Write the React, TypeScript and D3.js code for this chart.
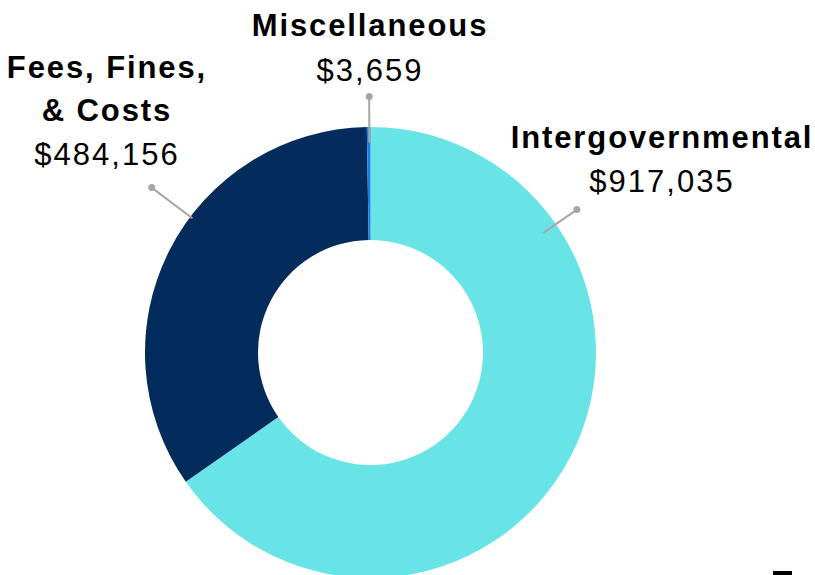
import * as d3 from "d3";

const categories = ["Intergovernmental", "Fees, Fines, & Costs", "Miscellaneous"];
const amounts = [917035, 484156, 3659];
const colors = ["#68E4E7", "#032B5B", "#1A7DE6"];

// label text lines (bold title lines) per category
const titleLines = [["Intergovernmental"], ["Fees, Fines,", "& Costs"], ["Miscellaneous"]];
// leader line angle (degrees, clockwise from 12 o'clock) and radii, per category
const leaderAngles = [55.3, 307, 359.7];
const leaderInner = [210, 223, 210];
const leaderOuter = [251, 274, 256];
const labelX = [662, 107, 370];
const labelTop = [148, 78, 36];

const width = 815;
const height = 575;
const cx = 370.5;
const cy = 352.5;
const outerR = 225.5;
const innerR = 112.5;
const lineGap = 43;

export default function App() {
  const pie = d3.pie<number>().sort(null).value((d) => d);
  const arcs = pie(amounts);
  const arc = d3.arc<d3.PieArcDatum<number>>().innerRadius(innerR).outerRadius(outerR);
  const fmt = d3.format("$,");

  return (
    <svg
      width={width}
      height={height}
      style={{ position: "absolute", left: 0, top: 0, fontFamily: "Liberation Sans, Arial, sans-serif" }}
    >
      <g transform={`translate(${cx},${cy})`}>
        {arcs.map((a, i) => (
          <path key={categories[i]} d={arc(a) || ""} fill={colors[i]} />
        ))}
        {leaderAngles.map((deg, i) => {
          const rad = (deg * Math.PI) / 180;
          const [x1, y1] = d3.pointRadial(rad, leaderInner[i]);
          const [x2, y2] = d3.pointRadial(rad, leaderOuter[i]);
          return (
            <g key={"l" + i}>
              <line x1={x1} y1={y1} x2={x2} y2={y2} stroke="#A6A6A6" strokeWidth={2} />
              <circle cx={x2} cy={y2} r={3.5} fill="#A6A6A6" />
            </g>
          );
        })}
      </g>
      {categories.map((c, i) => {
        const lines = titleLines[i];
        return (
          <g key={"t" + c}>
            {lines.map((ln, j) => (
              <text
                key={ln}
                x={labelX[i]}
                y={labelTop[i] + j * lineGap}
                textAnchor="middle"
                fontWeight="bold"
                fontSize={31}
                letterSpacing={1.9}
                fill="#000"
              >
                {ln}
              </text>
            ))}
            <text
              x={labelX[i]}
              y={labelTop[i] + lines.length * lineGap + (i === 2 ? 2 : 1)}
              textAnchor="middle"
              fontSize={31}
              letterSpacing={2}
              fill="#000"
            >
              {fmt(amounts[i])}
            </text>
          </g>
        );
      })}
      <rect x={773} y={571} width={19} height={4} fill="#000" />
    </svg>
  );
}
